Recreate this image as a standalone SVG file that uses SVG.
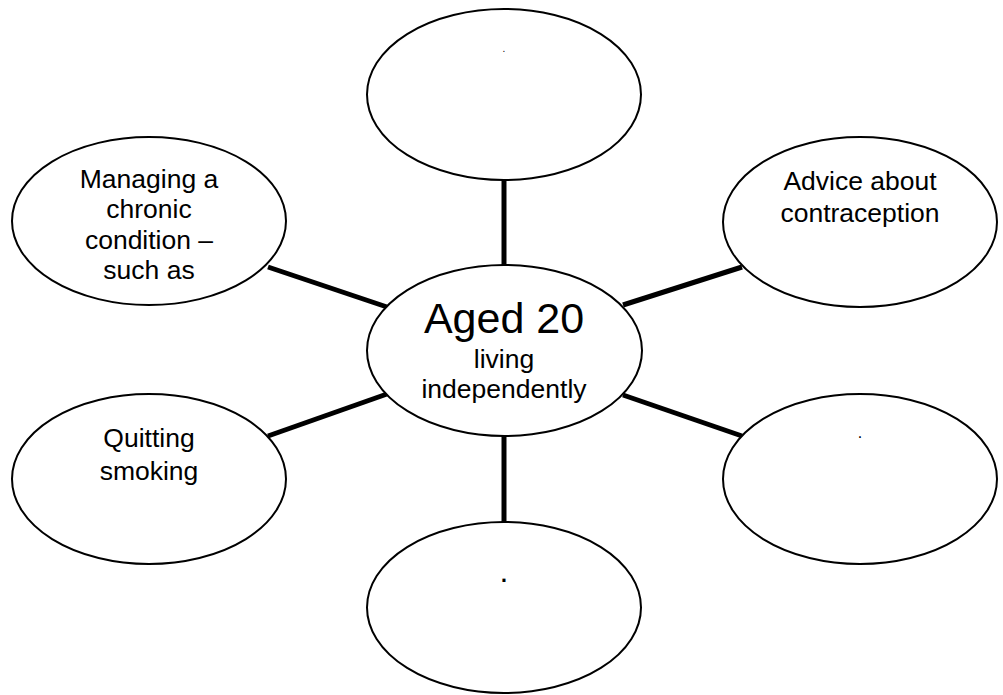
<svg xmlns="http://www.w3.org/2000/svg" width="1003" height="695" viewBox="0 0 1003 695">
<style>
.n{fill:#fff;stroke:#000;stroke-width:2}
.t{font-family:"Liberation Sans",Arial,sans-serif;font-size:26.5px;fill:#000;text-anchor:middle}
.c line{stroke:#000;stroke-width:5}
</style>
<rect width="1003" height="695" fill="#fff"/>
<g id="connectors" class="c">
<line x1="504" y1="180" x2="504" y2="265"/>
<line x1="504" y1="436" x2="504" y2="522"/>
<line x1="268" y1="267" x2="387" y2="307"/>
<line x1="268" y1="436" x2="387" y2="394"/>
<line x1="623" y1="305" x2="742" y2="267"/>
<line x1="623" y1="395" x2="742" y2="436"/>
</g>
<g id="top"><ellipse class="n" cx="504" cy="94.5" rx="137" ry="85.5"/><text class="t" x="504" y="52" style="font-size:10px">.</text></g>
<g id="topleft"><ellipse class="n" cx="149" cy="221" rx="137" ry="84"/>
<text class="t" x="149" y="188">Managing a</text>
<text class="t" x="149" y="218">chronic</text>
<text class="t" x="149" y="249">condition –</text>
<text class="t" x="149" y="279">such as</text></g>
<g id="topright"><ellipse class="n" cx="860" cy="222" rx="137" ry="85"/>
<text class="t" x="860" y="190">Advice about</text>
<text class="t" x="860" y="222">contraception</text></g>
<g id="center"><ellipse class="n" cx="504.5" cy="350.5" rx="137.5" ry="85.5"/>
<text class="t" x="504" y="333" style="font-size:43px">Aged 20</text>
<text class="t" x="504" y="368">living</text>
<text class="t" x="504" y="398">independently</text></g>
<g id="bottomleft"><ellipse class="n" cx="149" cy="479" rx="137" ry="85"/>
<text class="t" x="149" y="447">Quitting</text>
<text class="t" x="149" y="480">smoking</text></g>
<g id="bottomright"><ellipse class="n" cx="860" cy="479" rx="137" ry="85"/><text class="t" x="860" y="437.5" style="font-size:16px">.</text></g>
<g id="bottom"><ellipse class="n" cx="504" cy="607.5" rx="137" ry="85.5"/><text class="t" x="504" y="581.5" style="font-size:32px">.</text></g>
</svg>
